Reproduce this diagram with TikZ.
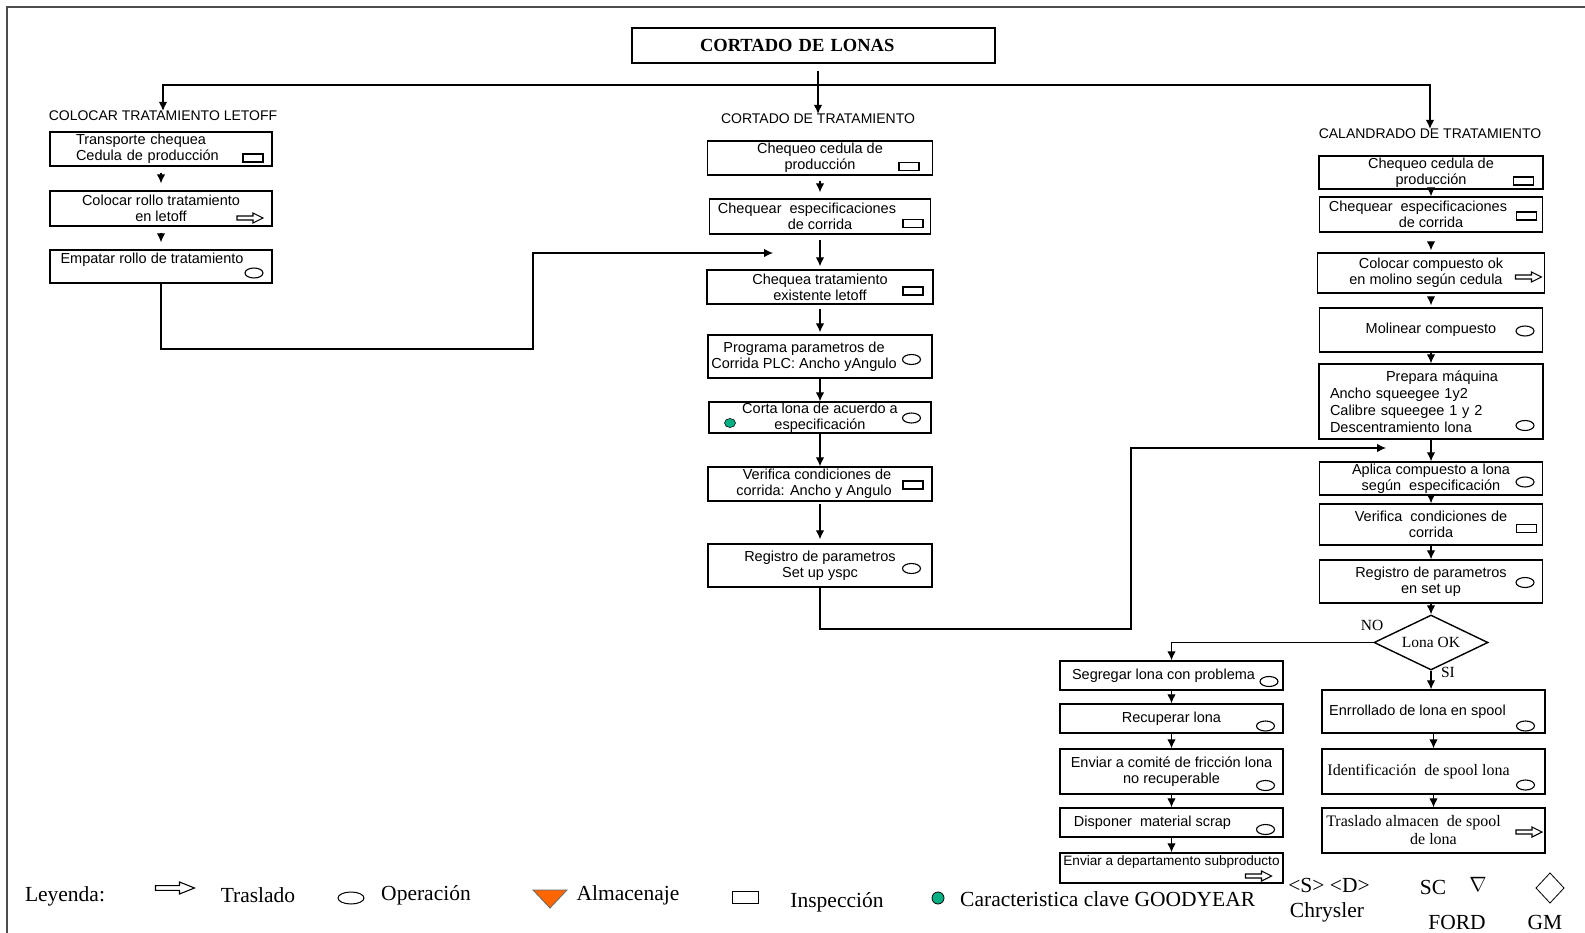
\documentclass[tikz,border=0pt]{standalone}
\usepackage{fontspec}
\setmainfont{Liberation Serif}
\setsansfont{Liberation Sans}
\usetikzlibrary{shapes.geometric}
\usetikzlibrary{arrows.meta}
\definecolor{almac}{RGB}{255,102,0}
\definecolor{keyg}{RGB}{0,176,130}

\begin{document}
\begin{tikzpicture}[x=1pt, y=-1pt]
\tikzset{box/.style = {draw, rectangle, line width=1.4pt, inner xsep=2pt, inner ysep=0.5pt, align=center, font=\sffamily\fontsize{14.5}{16}\selectfont}}
\tikzset{serifbox/.style = {box, font=\fontsize{16}{18}\selectfont}}
\tikzset{edge/.style = {->, > = {Latex[length=9pt, width=8.5pt]}, line width=1.1pt}}
\tikzset{head/.style = {inner sep=0pt, font=\sffamily\fontsize{14}{16}\selectfont}}
\tikzset{leg/.style = {inner sep=0pt, font=\fontsize{21.5}{24}\selectfont}}
\tikzset{insp/.pic = {\draw[line width=1.1pt] (-10,-4) rectangle (10,4);}}
\tikzset{oper/.pic = {\draw[line width=1.1pt] (0,0) ellipse [x radius=9pt, y radius=5pt];}}
\tikzset{tras/.pic = {\draw[line width=1.1pt] (-13,-2) -- (3,-2) -- (3,-5) -- (13,0) -- (3,5) -- (3,2) -- (-13,2) -- cycle;}}

\useasboundingbox (0,0) rectangle (1585,933);
\draw[line width=1.5pt, black!70] (7,933) -- (7,7) -- (1585,7);

\node[draw, line width=1.4pt, align=left, text width=227pt, inner xsep=68pt, minimum height=35pt, font=\bfseries\fontsize{18.5}{20}\selectfont] (title) at (813.5,45.5) {CORTADO DE LONAS};

\node[head] (colocar) at (163,116) {COLOCAR TRATAMIENTO LETOFF};
\node[head] (cortado) at (818,119) {CORTADO DE TRATAMIENTO};
\node[head] (calandrado) at (1430,134) {CALANDRADO DE TRATAMIENTO};

\coordinate (split) at (818,85);
\draw[edge, shorten <=7pt] (title.south -| cortado.north) -- (cortado.north);
\draw[edge] (split) -| (colocar.north);
\draw[edge] (split) -| (calandrado.north);

% left column
\node[box, align=left, text width=170pt, inner xsep=26pt, minimum height=34pt] (tA) at (161,149) {Transporte chequea\\Cedula de producción};
\node[box, minimum width=222pt, minimum height=35pt] (tB) at (161,208.5) {Colocar rollo tratamiento\\en letoff};
\node[box, minimum width=222pt, minimum height=33pt] (tC) at (161,266.5) {Empatar rollo de tratamiento\hspace*{18pt}\\ \mbox{}};

% middle column
\node[box, minimum width=225pt, minimum height=34pt] (mA) at (820,158) {Chequeo cedula de\\producción};
\node[box, minimum width=221pt, minimum height=35pt] (mB) at (820,216.5) {Chequear\ \ especificaciones\hspace*{26pt}\\de corrida};
\node[box, minimum width=226pt, minimum height=34pt] (mC) at (820,287) {Chequea tratamiento\\existente letoff};
\node[box, minimum width=224pt, minimum height=43pt] (mD) at (820,356.5) {Programa parametros de\hspace*{32pt}\\Corrida PLC: Ancho yAngulo\hspace*{32pt}};
\node[box, minimum width=222pt, minimum height=31pt] (mE) at (820,417.5) {Corta lona de acuerdo a\\especificación};
\node[box, minimum width=224pt, minimum height=34pt] (mF) at (820,484) {Verifica condiciones de\hspace*{6pt}\\corrida: Ancho y Angulo\hspace*{12pt}};
\node[box, minimum width=224pt, minimum height=43pt] (mG) at (820,565.5) {Registro de parametros\\Set up yspc};

% right column
\node[box, minimum width=224pt, minimum height=33pt] (rA) at (1431,172.5) {Chequeo cedula de\\producción};
\node[box, minimum width=223pt, minimum height=35pt] (rB) at (1431,214.5) {Chequear\ \ especificaciones\hspace*{26pt}\\de corrida};
\node[box, minimum width=227pt, minimum height=40pt] (rC) at (1431,273) {Colocar compuesto ok\\en molino según cedula\hspace*{10pt}};
\node[box, minimum width=223pt, minimum height=44pt] (rD) at (1431,330) {Molinear compuesto};
\node[box, align=left, text width=202pt, inner xsep=11pt, minimum height=75pt, font=\sffamily\fontsize{14.5}{17}\selectfont] (rE) at (1431,401.5) {\hspace*{56pt}Prepara máquina\\Ancho squeegee 1y2\\Calibre squeegee 1 y 2\\Descentramiento lona};
\node[box, minimum width=223pt, minimum height=33pt] (rF) at (1431,478.5) {Aplica compuesto a lona\\según\ \ especificación};
\node[box, minimum width=223pt, minimum height=41pt] (rG) at (1431,524.5) {Verifica\ \ condiciones de\\corrida};
\node[box, minimum width=223pt, minimum height=43pt] (rH) at (1431,581.5) {Registro de parametros\\en set up};
\node[draw, diamond, aspect=2, inner sep=0pt, minimum width=114pt, minimum height=55pt, line width=1.4pt, font=\fontsize{15.5}{17}\selectfont] (dec) at (1431,642.5) {Lona OK};
\node[inner sep=0pt, font=\fontsize{15.5}{17}\selectfont] (no) at (1372,625) {NO};
\node[inner sep=0pt, font=\fontsize{15.5}{17}\selectfont] (si) at (1448,672) {SI};

% rechazo
\node[box, minimum width=223pt, minimum height=29pt] (lA) at (1171.5,675.5) {Segregar lona con problema\hspace*{16pt}};
\node[box, minimum width=223pt, minimum height=29pt] (lB) at (1171.5,718.5) {Recuperar lona};
\node[box, minimum width=223pt, minimum height=45pt] (lC) at (1171.5,771.5) {Enviar a comité de fricción lona\\no recuperable};
\node[box, minimum width=223pt, minimum height=29pt] (lD) at (1171.5,822.5) {Disponer\ \ material scrap\hspace*{38pt}};
\node[box, inner xsep=0pt, minimum width=223pt, minimum height=30pt, font=\sffamily\fontsize{13.6}{15}\selectfont] (lE) at (1171.5,868) {Enviar a departamento subproducto\\ \mbox{}};

% aceptado
\node[box, minimum width=223pt, minimum height=43pt] (sA) at (1433.5,711.5) {Enrrollado de lona en spool\hspace*{32pt}};
\node[serifbox, minimum width=223pt, minimum height=45pt] (sB) at (1433.5,771.5) {Identificación\ \ de spool lona\hspace*{30pt}};
\node[serifbox, minimum width=223pt, minimum height=45pt] (sC) at (1433.5,830.5) {Traslado almacen\ \ de spool\hspace*{40pt}\\de lona};

\foreach \a/\b/\s/\t in {tA/tB/6pt/7pt, tB/tC/6pt/7pt, mA/mB/5pt/6pt, mB/mC/5pt/3pt, mC/mD/4pt/2pt, mD/mE/0pt/0pt, mE/mF/0pt/0pt, mF/mG/2pt/4pt, rA/rB/0pt/0pt, rB/rC/9pt/2pt, rC/rD/3pt/2pt, rD/rE/0pt/0pt, rE/rF/0pt/0pt, rF/rG/0pt/0pt, rG/rH/0pt/0pt, rH/dec/0pt/0pt, lA/lB/0pt/0pt, lB/lC/0pt/0pt, lC/lD/0pt/0pt, lD/lE/0pt/0pt, sA/sB/0pt/0pt, sB/sC/0pt/0pt}
  {\draw[edge, shorten <=\s, shorten >=\t] (\a) -- (\b);}

\draw[edge] (dec.west) -| (lA.north);
\draw[edge] (dec.south) -- (dec.south |- sA.north);

\coordinate (jL) at (773,253);
\coordinate (jR) at (1386,448);
\draw[edge] (tC.south) |- (533,349) |- (jL);
\draw[edge] (mG.south) |- (1131,629) |- (jR);

% simbolos
\foreach \px/\py in {253/158, 909/166.5, 913/223.5, 913/291, 913/485, 1523.5/181, 1526.5/216, 1526.5/528.5}
  {\pic at (\px,\py) {insp};}
\foreach \px/\py in {254/273, 911.5/359.5, 911.5/418, 911.5/568.5, 1525/331, 1525/425.5, 1525/482, 1525/582.5, 1269/681.5, 1265.5/726, 1265.5/785.5, 1265.5/829.5, 1525.5/726, 1525.5/785}
  {\pic at (\px,\py) {oper};}
\foreach \px/\py in {250/218, 1528.5/277, 1258.5/876, 1529/832}
  {\pic at (\px,\py) {tras};}
\filldraw[fill=keyg, draw=black, line width=.6pt] (730,423) ellipse [x radius=5.5pt, y radius=4.5pt];

% leyenda
\node[leg] (leyenda) at (65,896) {Leyenda:};
\pic[xscale=1.5, yscale=1.2] at (175,888) {tras};
\node[leg] (traslado) at (258,895) {Traslado};
\draw[line width=1pt] (351,898) ellipse [x radius=13pt, y radius=6pt];
\node[leg] (operacion) at (426,895) {Operación};
\filldraw[fill=almac, draw=black!60, line width=.8pt] (533,890) -- (567,890) -- (550,908) -- cycle;
\node[leg] (almacenaje) at (628,895) {Almacenaje};
\draw[line width=1pt] (732,891) rectangle (758,903);
\node[leg] (inspeccion) at (837,902) {Inspección};
\filldraw[fill=keyg, draw=black, line width=.8pt] (938,898) circle [radius=6pt];
\node[leg, anchor=west] (clave) at (960,899) {Caracteristica clave GOODYEAR};
\node[leg] (sd) at (1329,885) {<S> <D>};
\node[leg] (chrysler) at (1327,912) {Chrysler};
\node[leg] (sc) at (1433,887) {SC};
\node[leg] (nabla) at (1478,884) {$\nabla$};
\node[leg] (ford) at (1457,922) {FORD};
\draw[line width=.8pt] (1550,873) -- (1564,888) -- (1550,903) -- (1536,888) -- cycle;
\node[leg] (gm) at (1545,922) {GM};

\end{tikzpicture}
\end{document}
